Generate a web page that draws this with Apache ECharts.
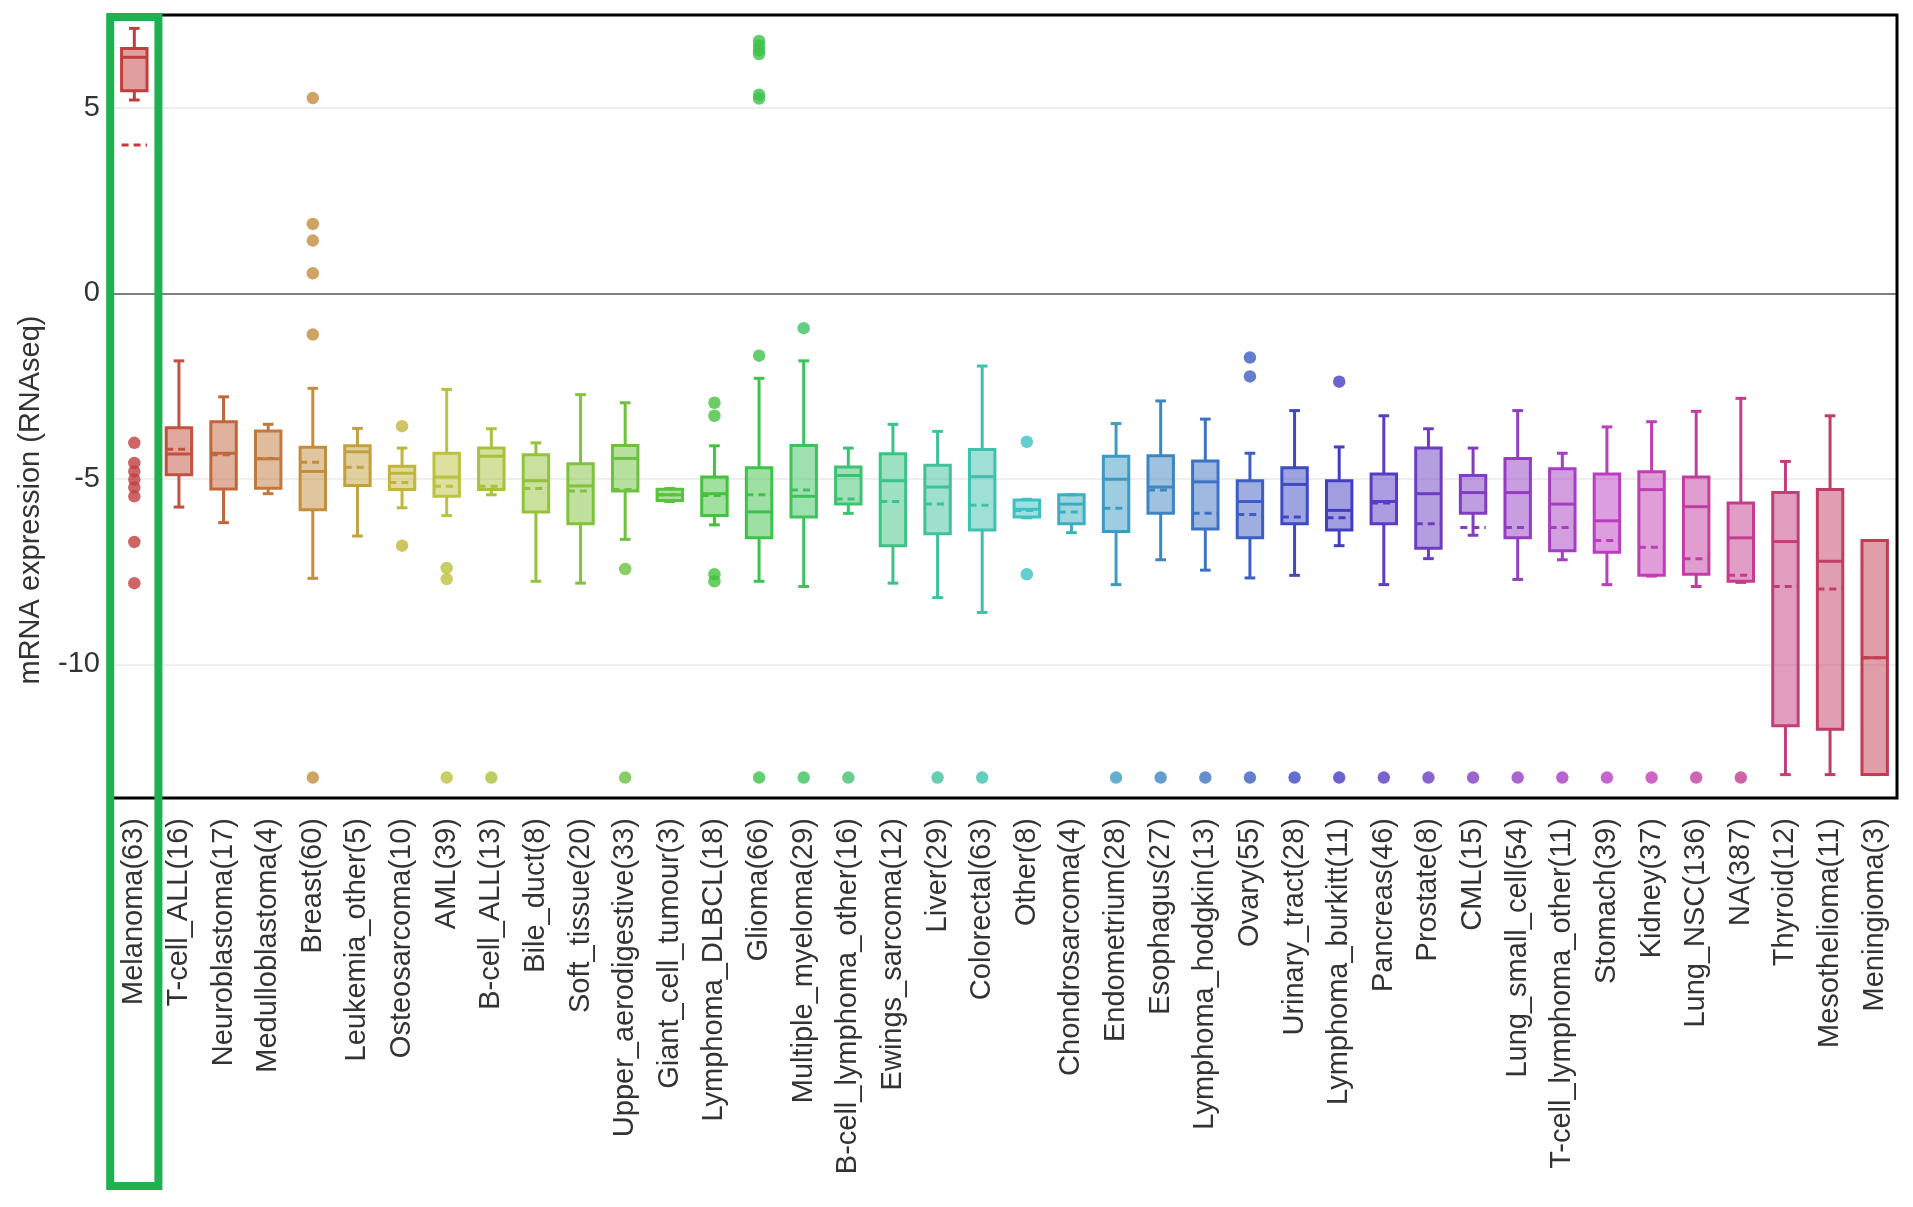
<!DOCTYPE html>
<html>
<head>
<meta charset="utf-8">
<script src="https://cdn.jsdelivr.net/npm/echarts@6/dist/echarts.min.js"></script>
<style>
html,body{margin:0;padding:0;background:#fff;}
#chart{width:1913px;height:1207px;}
</style>
</head>
<body>
<div id="chart"></div>
<script>
const categories = ["Melanoma(63)","T-cell_ALL(16)","Neuroblastoma(17)","Medulloblastoma(4)","Breast(60)","Leukemia_other(5)","Osteosarcoma(10)","AML(39)","B-cell_ALL(13)","Bile_duct(8)","Soft_tissue(20)","Upper_aerodigestive(33)","Giant_cell_tumour(3)","Lymphoma_DLBCL(18)","Glioma(66)","Multiple_myeloma(29)","B-cell_lymphoma_other(16)","Ewings_sarcoma(12)","Liver(29)","Colorectal(63)","Other(8)","Chondrosarcoma(4)","Endometrium(28)","Esophagus(27)","Lymphoma_hodgkin(13)","Ovary(55)","Urinary_tract(28)","Lymphoma_burkitt(11)","Pancreas(46)","Prostate(8)","CML(15)","Lung_small_cell(54)","T-cell_lymphoma_other(11)","Stomach(39)","Kidney(37)","Lung_NSC(136)","NA(387)","Thyroid(12)","Mesothelioma(11)","Meningioma(3)"];

const whiskerLow  = [5.21,-5.76,-6.18,-5.40,-7.68,-6.54,-5.78,-5.99,-5.43,-7.76,-7.81,-6.63,-5.61,-6.24,-7.76,-7.90,-5.93,-7.81,-8.20,-8.60,-6.05,-6.45,-7.85,-7.18,-7.46,-7.67,-7.60,-6.80,-7.85,-7.15,-6.52,-7.71,-7.18,-7.85,-7.62,-7.90,-7.79,-12.97,-12.97,-12.97];
const q1          = [5.46,-4.89,-5.27,-5.25,-5.83,-5.18,-5.29,-5.47,-5.29,-5.89,-6.21,-5.33,-5.58,-5.99,-6.59,-6.03,-5.68,-6.80,-6.48,-6.38,-6.03,-6.21,-6.42,-5.93,-6.35,-6.59,-6.21,-6.38,-6.21,-6.87,-5.93,-6.59,-6.94,-6.98,-7.60,-7.57,-7.76,-11.65,-11.75,-12.97];
const median      = [6.36,-4.33,-4.31,-4.46,-4.80,-4.27,-4.85,-4.95,-4.39,-5.05,-5.19,-4.45,-5.43,-5.40,-5.89,-5.47,-4.91,-5.05,-5.22,-4.94,-5.82,-5.68,-5.01,-5.22,-5.08,-5.61,-5.15,-5.85,-5.61,-5.40,-5.37,-5.37,-5.68,-6.13,-5.29,-5.75,-6.59,-6.69,-7.22,-9.82];
const q3          = [6.60,-3.62,-3.46,-3.71,-4.15,-4.11,-4.66,-4.31,-4.17,-4.35,-4.59,-4.10,-5.28,-4.95,-4.70,-4.10,-4.68,-4.32,-4.63,-4.21,-5.57,-5.43,-4.39,-4.38,-4.52,-5.05,-4.70,-5.05,-4.87,-4.17,-4.91,-4.45,-4.73,-4.87,-4.81,-4.95,-5.65,-5.37,-5.29,-6.66];
const whiskerHigh = [7.14,-1.82,-2.79,-3.53,-2.56,-3.64,-4.17,-2.59,-3.65,-4.03,-2.73,-2.95,-5.26,-4.11,-2.29,-1.82,-4.17,-3.53,-3.72,-1.96,-5.55,-5.43,-3.51,-2.90,-3.39,-4.31,-3.16,-4.14,-3.30,-3.65,-4.17,-3.16,-4.31,-3.60,-3.46,-3.18,-2.83,-4.53,-3.30,-6.66];
const means       = [4.00,-4.20,-4.35,-4.45,-4.55,-4.69,-5.10,-5.20,-5.20,-5.26,-5.33,-5.29,-5.43,-5.45,-5.43,-5.30,-5.54,-5.61,-5.68,-5.71,-5.85,-5.89,-5.79,-5.30,-5.93,-5.96,-6.03,-6.05,-5.65,-6.21,-6.31,-6.31,-6.31,-6.66,-6.84,-7.15,-7.60,-7.90,-7.97,-9.82];
const outliers = [
  [-4.03,-4.57,-4.80,-5.02,-5.23,-5.47,-6.70,-7.81],
  [], [], [],
  [5.26,1.87,1.42,0.54,-1.11,-13.05],
  [],
  [-3.58,-6.80],
  [-7.40,-7.70,-13.05],
  [-13.05],
  [], [],
  [-7.43,-13.05],
  [],
  [-2.95,-3.30,-7.57,-7.76],
  [6.80,6.68,6.55,6.45,5.35,5.25,-1.68,-13.05],
  [-0.94,-13.05],
  [-13.05],
  [],
  [-13.05],
  [-13.05],
  [-4.00,-7.57],
  [],
  [-13.05],
  [-13.05],
  [-13.05],
  [-1.73,-2.24,-13.05],
  [-13.05],
  [-2.38,-13.05],
  [-13.05],[-13.05],[-13.05],[-13.05],[-13.05],[-13.05],[-13.05],[-13.05],[-13.05],
  [], [], []
];
const yTicks = [-10, -5, 0, 5];
const yMin = -13.6, yMax = 7.5;

const N = categories.length;
const hue = i => 360 * i / N;
const lineColor = i => 'hsl(' + hue(i) + ',52%,50%)';
const fillColor = i => 'hsla(' + hue(i) + ',52%,50%,0.5)';

const boxData = categories.map((c, i) => [i, whiskerLow[i], q1[i], median[i], q3[i], whiskerHigh[i], means[i]]);
const outlierData = [];
outliers.forEach((arr, i) => arr.forEach(v => outlierData.push({value: [i, v], itemStyle: {color: lineColor(i)}})));

const FONT = '"Liberation Sans", Arial, Helvetica, sans-serif';

const chart = echarts.init(document.getElementById('chart'), null, {renderer: 'canvas'});

function renderBox(params, api) {
  const i = api.value(0);
  const pLow = api.coord([i, api.value(1)]);
  const pQ1 = api.coord([i, api.value(2)]);
  const pMed = api.coord([i, api.value(3)]);
  const pQ3 = api.coord([i, api.value(4)]);
  const pHigh = api.coord([i, api.value(5)]);
  const pMean = api.coord([i, api.value(6)]);
  const band = api.size([1, 0])[0];
  const bw = band * 0.57;
  const cw = bw * 0.42;
  const x = pMed[0];
  const col = lineColor(i);
  const lw = 3;
  const ls = {stroke: col, lineWidth: lw, fill: null};
  return {
    type: 'group',
    children: [
      {type: 'line', shape: {x1: x, y1: pQ3[1], x2: x, y2: pHigh[1]}, style: ls},
      {type: 'line', shape: {x1: x, y1: pQ1[1], x2: x, y2: pLow[1]}, style: ls},
      {type: 'line', shape: {x1: x - cw / 2, y1: pHigh[1], x2: x + cw / 2, y2: pHigh[1]}, style: ls},
      {type: 'line', shape: {x1: x - cw / 2, y1: pLow[1], x2: x + cw / 2, y2: pLow[1]}, style: ls},
      {type: 'rect', shape: {x: x - bw / 2, y: pQ3[1], width: bw, height: pQ1[1] - pQ3[1]},
        style: {fill: fillColor(i), stroke: col, lineWidth: lw}},
      {type: 'line', shape: {x1: x - bw / 2, y1: pMed[1], x2: x + bw / 2, y2: pMed[1]}, style: ls},
      {type: 'line', shape: {x1: x - bw / 2, y1: pMean[1], x2: x + bw / 2, y2: pMean[1]},
        style: {stroke: col, lineWidth: lw, lineDash: [7, 5], fill: null}}
    ]
  };
}

const gridLines = yTicks.filter(v => v !== 0).map(v => ({yAxis: v, lineStyle: {color: '#eeeeee', width: 2, type: 'solid'}}));

const option = {
  animation: false,
  backgroundColor: '#fff',
  grid: {left: 112, right: 16, top: 15, bottom: 409, show: false},
  xAxis: {
    type: 'category',
    data: categories,
    boundaryGap: true,
    axisLine: {show: false},
    axisTick: {show: false},
    splitLine: {show: false},
    axisLabel: {interval: 0, rotate: 90, fontSize: 29, margin: 20, color: '#333', fontFamily: FONT}
  },
  yAxis: {
    type: 'value',
    min: yMin,
    max: yMax,
    splitNumber: 5,
    axisLine: {show: false},
    axisTick: {show: false},
    splitLine: {show: false},
    axisLabel: {
      fontSize: 29, margin: 12, color: '#333', fontFamily: FONT,
      showMinLabel: false, showMaxLabel: false,
      formatter: v => (yTicks.indexOf(v) >= 0 ? String(v) : '')
    }
  },
  series: [
    {
      type: 'custom',
      renderItem: renderBox,
      data: boxData,
      encode: {x: 0, y: [1, 2, 3, 4, 5, 6]},
      z: 3,
      markLine: {
        silent: true, symbol: 'none', z: 1,
        label: {show: false},
        data: gridLines.concat([{yAxis: 0, lineStyle: {color: '#7f7f7f', width: 2, type: 'solid'}}])
      }
    },
    {
      type: 'scatter',
      data: outlierData,
      symbol: 'circle',
      symbolSize: 12.5,
      z: 4
    }
  ]
};
chart.setOption(option);

// frame and highlight positioned from the axis scales
const pTL = chart.convertToPixel({gridIndex: 0}, [0, yMax]);
const pBR = chart.convertToPixel({gridIndex: 0}, [N - 1, yMin]);
const p1 = chart.convertToPixel({gridIndex: 0}, [1, yMax]);
const band = p1[0] - pTL[0];
const left = pTL[0] - band / 2, right = pBR[0] + band / 2;
chart.setOption({
  graphic: [
    {
      type: 'text',
      x: 31, y: 500,
      rotation: Math.PI / 2,
      style: {text: 'mRNA expression (RNAseq)', fontSize: 29, fontFamily: FONT, fill: '#333', textAlign: 'center', textVerticalAlign: 'middle'}
    },
    {
      type: 'rect', z: 90,
      shape: {x: left, y: pTL[1], width: right - left, height: pBR[1] - pTL[1]},
      style: {fill: null, stroke: '#000', lineWidth: 3}
    },
    {
      type: 'rect', z: 100,
      shape: {x: pTL[0] - band * 0.54, y: pTL[1] + 2, width: band * 1.08, height: 1186 - (pTL[1] + 2)},
      style: {fill: null, stroke: '#1fb04f', lineWidth: 8}
    }
  ]
});
</script>
</body>
</html>
